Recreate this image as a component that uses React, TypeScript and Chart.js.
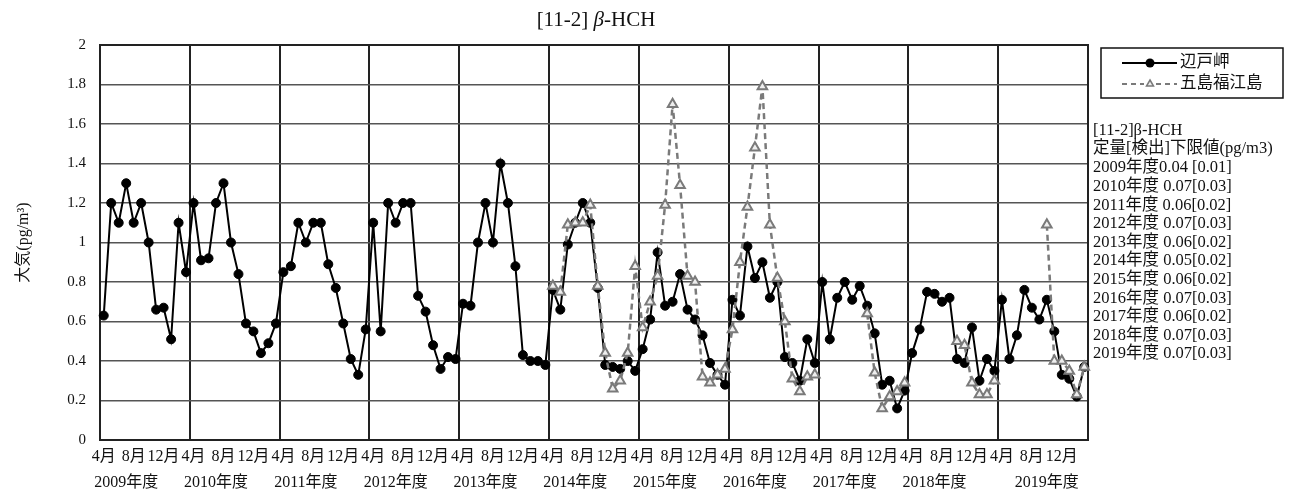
import React, { useEffect, useRef } from "react";
import { Chart, registerables } from "chart.js";

Chart.register(...registerables);

const fiscalYears = [2009, 2010, 2011, 2012, 2013, 2014, 2015, 2016, 2017, 2018, 2019];
const months = ["4", "5", "6", "7", "8", "9", "10", "11", "12", "1", "2", "3"];
const shownMonths = ["4", "8", "12"];
// month under which each fiscal-year caption is written
const yearCaptionMonth = ["7", "7", "7", "7", "7", "7", "7", "7", "7", "7", "10"];

// 辺戸岬 (pg/m3), April..March per fiscal year
const hedoMisaki = [
  0.63, 1.2, 1.1, 1.3, 1.1, 1.2, 1.0, 0.66, 0.67, 0.51, 1.1, 0.85, // 2009
  1.2, 0.91, 0.92, 1.2, 1.3, 1.0, 0.84, 0.59, 0.55, 0.44, 0.49, 0.59, // 2010
  0.85, 0.88, 1.1, 1.0, 1.1, 1.1, 0.89, 0.77, 0.59, 0.41, 0.33, 0.56, // 2011
  1.1, 0.55, 1.2, 1.1, 1.2, 1.2, 0.73, 0.65, 0.48, 0.36, 0.42, 0.41, // 2012
  0.69, 0.68, 1.0, 1.2, 1.0, 1.4, 1.2, 0.88, 0.43, 0.4, 0.4, 0.38, // 2013
  0.76, 0.66, 0.99, 1.1, 1.2, 1.1, 0.77, 0.38, 0.37, 0.36, 0.4, 0.35, // 2014
  0.46, 0.61, 0.95, 0.68, 0.7, 0.84, 0.66, 0.61, 0.53, 0.39, 0.33, 0.28, // 2015
  0.71, 0.63, 0.98, 0.82, 0.9, 0.72, 0.8, 0.42, 0.39, 0.3, 0.51, 0.39, // 2016
  0.8, 0.51, 0.72, 0.8, 0.71, 0.78, 0.68, 0.54, 0.28, 0.3, 0.16, 0.25, // 2017
  0.44, 0.56, 0.75, 0.74, 0.7, 0.72, 0.41, 0.39, 0.57, 0.3, 0.41, 0.35, // 2018
  0.71, 0.41, 0.53, 0.76, 0.67, 0.61, 0.71, 0.55, 0.33, 0.31, 0.22, 0.37, // 2019
];

// 五島福江島 (pg/m3)
const gotoFukue = [
  null, null, null, null, null, null, null, null, null, null, null, null, // 2009
  null, null, null, null, null, null, null, null, null, null, null, null, // 2010
  null, null, null, null, null, null, null, null, null, null, null, null, // 2011
  null, null, null, null, null, null, null, null, null, null, null, null, // 2012
  null, null, null, null, null, null, null, null, null, null, null, null, // 2013
  0.78, 0.75, 1.09, 1.1, 1.1, 1.19, 0.78, 0.44, 0.26, 0.3, 0.44, 0.88, // 2014
  0.57, 0.7, 0.83, 1.19, 1.7, 1.29, 0.83, 0.8, 0.32, 0.29, 0.33, 0.36, // 2015
  0.56, 0.9, 1.18, 1.48, 1.79, 1.09, 0.82, 0.6, 0.31, 0.245, 0.32, 0.33, // 2016
  null, null, null, null, null, null, 0.64, 0.34, 0.16, 0.22, 0.245, 0.29, // 2017
  null, null, null, null, null, null, 0.5, 0.48, 0.29, 0.23, 0.23, 0.3, // 2018
  null, null, null, null, null, null, 1.09, 0.4, 0.4, 0.35, 0.23, 0.37, // 2019
];

const yTicksMax = 2;
const yTicksStep = 0.2;

const noteLines = [
  "[11-2]β-HCH",
  "定量[検出]下限値(pg/m3)",
  "2009年度0.04 [0.01]",
  "2010年度 0.07[0.03]",
  "2011年度 0.06[0.02]",
  "2012年度 0.07[0.03]",
  "2013年度 0.06[0.02]",
  "2014年度 0.05[0.02]",
  "2015年度 0.06[0.02]",
  "2016年度 0.07[0.03]",
  "2017年度 0.06[0.02]",
  "2018年度 0.07[0.03]",
  "2019年度 0.07[0.03]",
];

const seriesNames = ["辺戸岬", "五島福江島"];

const FONT = "'Liberation Serif', 'Times New Roman', 'Noto Sans CJK JP', serif";

const categories: (string | string[])[] = [];
fiscalYears.forEach((y, yi) => {
  months.forEach((m) => {
    const top = shownMonths.includes(m) ? m + "月" : "";
    if (m === yearCaptionMonth[yi]) categories.push([top, y + "年度"]);
    else categories.push(top);
  });
});

const decorPlugin = {
  id: "decor",
  beforeDatasetsDraw(chart: any) {
    const { ctx, chartArea } = chart;
    ctx.save();
    ctx.strokeStyle = "#222";
    ctx.lineWidth = 2;
    ctx.strokeRect(chartArea.left, chartArea.top, chartArea.right - chartArea.left, chartArea.bottom - chartArea.top);
    ctx.restore();
  },
  afterDraw(chart: any) {
    const { ctx } = chart;
    ctx.save();
    // title
    ctx.fillStyle = "#111";
    ctx.textBaseline = "middle";
    const p1 = "[11-2] ";
    const p2 = "β";
    const p3 = "-HCH";
    const tf = 21;
    ctx.font = `${tf}px ${FONT}`;
    const w1 = ctx.measureText(p1).width;
    const w3 = ctx.measureText(p3).width;
    ctx.font = `italic ${tf}px ${FONT}`;
    const w2 = ctx.measureText(p2).width;
    const total = w1 + w2 + w3;
    let x = 596 - total / 2;
    const ty = 20;
    ctx.textAlign = "left";
    ctx.font = `${tf}px ${FONT}`;
    ctx.fillText(p1, x, ty);
    x += w1;
    ctx.font = `italic ${tf}px ${FONT}`;
    ctx.fillText(p2, x, ty);
    x += w2;
    ctx.font = `${tf}px ${FONT}`;
    ctx.fillText(p3, x, ty);

    // legend box
    ctx.strokeStyle = "#111";
    ctx.lineWidth = 1.5;
    ctx.strokeRect(1101, 48, 182, 50);
    const ds0 = chart.data.datasets[0];
    const ds1 = chart.data.datasets[1];
    // row 1
    ctx.strokeStyle = ds0.borderColor;
    ctx.lineWidth = 2;
    ctx.setLineDash([]);
    ctx.beginPath();
    ctx.moveTo(1122, 63);
    ctx.lineTo(1177, 63);
    ctx.stroke();
    ctx.fillStyle = ds0.pointBackgroundColor;
    ctx.beginPath();
    ctx.arc(1150, 63, 4.5, 0, Math.PI * 2);
    ctx.fill();
    // row 2
    ctx.strokeStyle = ds1.borderColor;
    ctx.lineWidth = 2;
    ctx.setLineDash([5, 4]);
    ctx.beginPath();
    ctx.moveTo(1122, 84);
    ctx.lineTo(1144, 84);
    ctx.moveTo(1156, 84);
    ctx.lineTo(1177, 84);
    ctx.stroke();
    ctx.setLineDash([]);
    ctx.beginPath();
    ctx.moveTo(1150, 80);
    ctx.lineTo(1153.5, 86);
    ctx.lineTo(1146.5, 86);
    ctx.closePath();
    ctx.fillStyle = "#eee";
    ctx.fill();
    ctx.lineWidth = 1.5;
    ctx.stroke();
    ctx.fillStyle = "#111";
    ctx.font = `16.5px ${FONT}`;
    ctx.textAlign = "left";
    ctx.fillText(seriesNames[0], 1180, 63);
    ctx.fillText(seriesNames[1], 1180, 84);

    // notes
    ctx.font = `16.5px ${FONT}`;
    noteLines.forEach((line, i) => {
      const yy = i === 0 ? 131 : i === 1 ? 149 : 168 + (i - 2) * 18.6;
      ctx.fillText(line, 1093, yy);
    });
    ctx.restore();
  },
};

export default function App() {
  const ref = useRef<HTMLCanvasElement | null>(null);
  useEffect(() => {
    document.body.style.margin = "0";
    if (!ref.current) return;
    const chart = new Chart(ref.current, {
      type: "line",
      data: {
        labels: categories,
        datasets: [
          {
            label: seriesNames[0],
            data: hedoMisaki,
            borderColor: "#000",
            backgroundColor: "#000",
            borderWidth: 2,
            pointRadius: 4.5,
            pointBackgroundColor: "#000",
            pointBorderColor: "#000",
            pointBorderWidth: 1,
            tension: 0,
            order: 1,
          },
          {
            label: seriesNames[1],
            data: gotoFukue,
            borderColor: "#7a7a7a",
            backgroundColor: "#eee",
            borderWidth: 2.5,
            borderDash: [6, 4],
            pointStyle: "triangle",
            pointRadius: 5.5,
            pointBackgroundColor: "#eee",
            pointBorderColor: "#7a7a7a",
            pointBorderWidth: 2,
            tension: 0,
            spanGaps: false,
            order: 0,
          },
        ],
      },
      options: {
        responsive: false,
        animation: false,
        devicePixelRatio: 1,
        layout: { padding: { left: 10, right: 204, top: 45, bottom: 0 } },
        plugins: {
          legend: { display: false },
          title: { display: false },
          tooltip: { enabled: false },
        },
        scales: {
          x: {
            type: "category",
            offset: true,
            grid: {
              offset: true,
              drawTicks: false,
              color: (c: any) => (c.index !== undefined && c.index % 12 === 0 ? "#222" : "rgba(0,0,0,0)"),
              lineWidth: 2,
            },
            border: { display: false },
            ticks: {
              autoSkip: false,
              maxRotation: 0,
              minRotation: 0,
              padding: 4,
              color: "#111",
              font: { family: FONT, size: 16, lineHeight: "26px" },
            },
            afterFit: (s: any) => {
              s.height = 61;
            },
          },
          y: {
            min: 0,
            max: yTicksMax,
            grid: { color: "#555", lineWidth: 1.5, drawTicks: false },
            border: { display: false },
            ticks: {
              stepSize: yTicksStep,
              padding: 14,
              color: "#111",
              font: { family: FONT, size: 15 },
              callback: (v: any) => String(Number(Number(v).toFixed(1))),
            },
            title: {
              display: true,
              text: "大気(pg/m³)",
              color: "#111",
              font: { family: FONT, size: 16 },
            },
            afterFit: (s: any) => {
              s.width = 90;
            },
          },
        },
      },
      plugins: [decorPlugin],
    });
    return () => chart.destroy();
  }, []);
  return (
    <div style={{ position: "absolute", left: 0, top: 0, width: 1292, height: 501, background: "#fff" }}>
      <canvas ref={ref} width={1292} height={501} style={{ width: 1292, height: 501, display: "block" }} />
    </div>
  );
}
